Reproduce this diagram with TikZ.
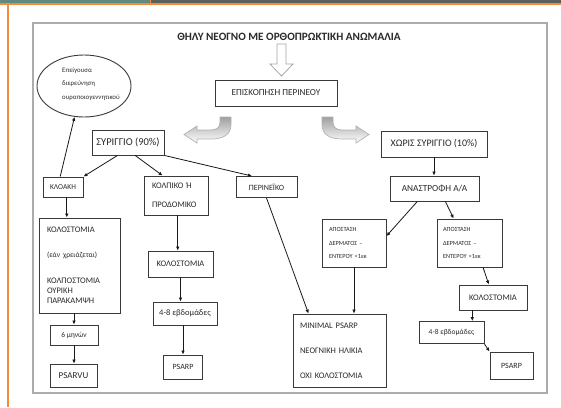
\documentclass[tikz,border=0pt]{standalone}
\usepackage{fontspec}
\setmainfont{Carlito}
\usetikzlibrary{shapes.geometric,arrows.meta,calc}
\definecolor{teal1}{HTML}{5F8A7F}
\definecolor{dark1}{HTML}{5A605D}
\definecolor{orng}{HTML}{F28C3A}
\definecolor{boxc}{HTML}{3A3A3A}
\definecolor{txtc}{HTML}{2A2A2A}
\begin{document}
\begin{tikzpicture}[x=1pt,y=-1pt,
  box/.style={draw=boxc, line width=0.9pt, rectangle, inner sep=0pt, text=txtc, font=\fontsize{8.5}{10}\selectfont},
  sz/.style 2 args={minimum width=#1pt, minimum height=#2pt},
  arr/.style={draw=black!90, line width=0.8pt, -{Latex[length=4pt,width=3.6pt]}},
  hollow/.style={draw=gray!70, line width=0.8pt},
  curvearr/.style={draw=gray!60, line width=0.7pt, top color=gray!75, bottom color=white}]
\useasboundingbox (0,0) rectangle (561,407);
\fill[white] (0,0) rectangle (561,407);
% page decoration
\fill[teal1] (0,0) rectangle (150,3.5);
\fill[dark1] (150,0) rectangle (561,3.5);
\fill[orng] (149.5,0) rectangle (151,3.5);
\fill[orng] (0,3.3) rectangle (561,4.8);
\fill[orng] (7.2,3.3) rectangle (8.9,407);
% frame
\draw[gray!65, line width=1.6pt] (33,23) rectangle (547,393);

% title and hollow arrow
\node[font=\bfseries\fontsize{11.2}{12}\selectfont, text=txtc] (title) at (289,37) {ΘΗΛΥ ΝΕΟΓΝΟ ΜΕ ΟΡΘΟΠΡΩΚΤΙΚΗ ΑΝΩΜΑΛΙΑ};
\draw[hollow] (277,44) -- (277,64) -- (270,64) -- (281.5,76) -- (293,64) -- (286,64) -- (286,44) -- cycle;

\node[box, sz={122}{26}, font=\fontsize{9.2}{10}\selectfont] (episk) at (276,93) {ΕΠΙΣΚΟΠΗΣΗ ΠΕΡΙΝΕΟΥ};

% curved hollow arrows
\path[curvearr] (322,117) -- (322,124) .. controls (322,135) and (330,139) .. (342,139) -- (356,139) -- (356,143) -- (369,134.5) -- (356,126) -- (356,130) -- (342,130) .. controls (336,130) and (333,127) .. (333,122) -- (333,117) -- cycle;
\path[curvearr] (231,117) -- (231,124) .. controls (231,135) and (223,139) .. (211,139) -- (197,139) -- (197,143) -- (184,134.5) -- (197,126) -- (197,130) -- (211,130) .. controls (217,130) and (220,127) .. (220,122) -- (220,117) -- cycle;

% ellipse
\node[draw=boxc, line width=0.9pt, ellipse, minimum width=94pt, minimum height=62pt] (ell) at (84,86) {};
\node[anchor=west, align=left, text=txtc, font=\fontsize{6.8}{13.5}\selectfont, inner sep=0pt] (elltxt) at (62,84) {Επείγουσα\\διερεύνηση\\ουροποιογεννητικού};

% nodes
\node[box, sz={72}{25}, font=\fontsize{10.5}{11}\selectfont] (syr90) at (128,142.5) {ΣΥΡΙΓΓΙΟ (90\%)};
\node[box, sz={106}{26}, font=\fontsize{10}{11}\selectfont] (xoris) at (434,144) {ΧΩΡΙΣ ΣΥΡΙΓΓΙΟ (10\%)};
\node[box, sz={40}{20}, font=\fontsize{7.5}{8}\selectfont] (kloaki) at (63,187) {ΚΛΟΑΚΗ};
\node[box, sz={64}{39}, text width=48pt, align=left, font=\fontsize{8.5}{19}\selectfont] (kolp) at (176,195.5) {ΚΟΛΠΙΚΟ Ή\\ΠΡΟΔΟΜΙΚΟ};
\node[box, sz={61}{21}, font=\fontsize{8}{9}\selectfont] (perin) at (266.5,187) {ΠΕΡΙΝΕΪΚΟ};
\node[box, sz={81}{95}, text width=65pt, align=left, font=\fontsize{8.5}{10.5}\selectfont] (kolost1) at (79.5,265.5) {ΚΟΛΟΣΤΟΜΙΑ\\[14.5pt]{\fontsize{7.5}{8}\selectfont(εάν χρειάζεται)}\\[15.5pt]ΚΟΛΠΟΣΤΟΜΙΑ\\[-0.5pt]ΟΥΡΙΚΗ\\[-0.5pt]ΠΑΡΑΚΑΜΨΗ};
\node[box, sz={48}{20}, font=\fontsize{7.5}{8}\selectfont] (m6) at (74,335) {6 μηνών};
\node[box, sz={47}{23}, font=\fontsize{9}{10}\selectfont] (psarvu) at (73.5,375.5) {PSARVU};
\node[box, sz={65}{26}, font=\fontsize{8.5}{9}\selectfont] (kolost2) at (180.5,264) {ΚΟΛΟΣΤΟΜΙΑ};
\node[box, sz={64}{23}, font=\fontsize{8.5}{9}\selectfont] (eb1) at (185,313.5) {4-8 εβδομάδες};
\node[box, sz={39}{24}, font=\fontsize{8}{9}\selectfont] (psarp1) at (183,367) {PSARP};
\node[box, sz={89}{25}, font=\fontsize{9.3}{10}\selectfont] (anastr) at (434.5,188.5) {ΑΝΑΣΤΡΟΦΗ Α/Α};
\node[box, sz={64}{48}, text width=50pt, align=left, font=\fontsize{6.3}{13.5}\selectfont] (apl) at (354,243) {ΑΠΟΣΤΑΣΗ\\ΔΕΡΜΑΤΟΣ –\\ΕΝΤΕΡΟΥ <1εκ};
\node[box, sz={65}{48}, text width=53pt, align=left, font=\fontsize{6.3}{13.5}\selectfont] (apr) at (469.5,243) {ΑΠΟΣΤΑΣΗ\\ΔΕΡΜΑΤΟΣ –\\ΕΝΤΕΡΟΥ >1εκ};
\node[box, sz={93}{73}, text width=79pt, align=left, font=\fontsize{8.5}{10}\selectfont] (minimal) at (339.5,350.5) {MINIMAL PSARP\\[15pt]ΝΕΟΓΝΙΚΗ ΗΛΙΚΙΑ\\[15pt]ΟΧΙ ΚΟΛΟΣΤΟΜΙΑ};
\node[box, sz={68}{25}, font=\fontsize{8.5}{9}\selectfont] (kolost3) at (493,297.5) {ΚΟΛΟΣΤΟΜΙΑ};
\node[box, sz={65}{22}, font=\fontsize{7.5}{8}\selectfont] (eb2) at (451.5,332.5) {4-8 εβδομάδες};
\node[box, sz={43}{27}, font=\fontsize{8}{9}\selectfont] (psarp2) at (511.5,365.5) {PSARP};

% connectors
\draw[arr] (kloaki.105) -- (ell.-107);
\draw[arr] (syr90.-129) -- (kloaki.north east);
\draw[arr] (syr90.-61) -- (kolp.124);
\draw[arr] (syr90.south east) -- (perin.143);
\draw[arr] (kloaki.-70) -- (kloaki.-70 |- kolost1.north);
\draw[arr] (kolost1.south -| m6.north) -- (m6.north);
\draw[arr] (m6.south) -- (m6.south |- psarvu.north);
\draw[arr] (kolp.-85) -- (kolp.-85 |- kolost2.north);
\draw[arr] (kolost2.south) -- (kolost2.south |- eb1.north);
\draw[arr] (psarp1.north |- eb1.south) -- (psarp1.north);
\draw[arr] (perin.south) -- (minimal.130);
\draw[arr] (xoris.south) -- (xoris.south |- anastr.north);
\draw[arr] (anastr.-143) -- (apl.12);
\draw[arr] (anastr.-50) -- (apr.123);
\draw[arr] (apl.south) -- (apl.south |- minimal.north);
\draw[arr] (apr.-61) -- (kolost3.108);
\draw[arr] (kolost3.-148) -- (kolost3.-148 |- eb2.north);
\draw[arr] (eb2.south east) -- (psarp2.north west);
\end{tikzpicture}
\end{document}
